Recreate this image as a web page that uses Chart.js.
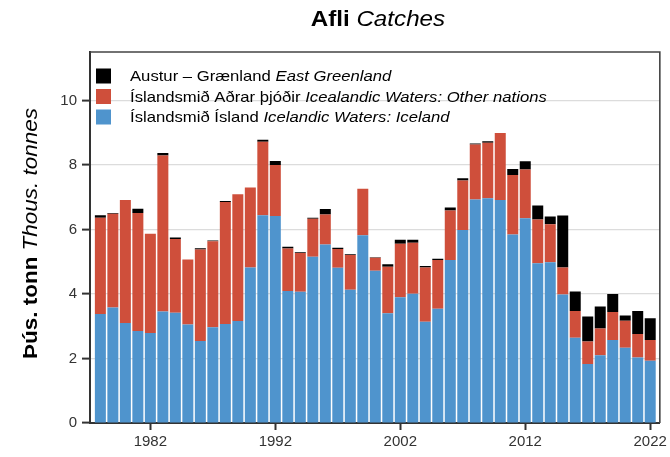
<!DOCTYPE html>
<html><head><meta charset="utf-8">
<script src="https://cdn.jsdelivr.net/npm/chart.js@4"></script>
<style>html,body{margin:0;padding:0;background:#fff}#wrap{width:670px;height:457px}</style>
</head><body><div id="wrap"><canvas id="c" width="670" height="457"></canvas></div>
<script>
const years = [1978,1979,1980,1981,1982,1983,1984,1985,1986,1987,1988,1989,1990,1991,1992,
  1993,1994,1995,1996,1997,1998,1999,2000,2001,2002,2003,2004,2005,2006,2007,
  2008,2009,2010,2011,2012,2013,2014,2015,2016,2017,2018,2019,2020,2021,2022];
const iceland = [3.38,3.58,3.10,2.85,2.79,3.46,3.42,3.05,2.54,2.97,3.07,3.16,4.82,6.44,6.42,
  4.09,4.07,5.15,5.53,4.81,4.13,5.82,4.72,3.40,3.90,4.01,3.14,3.54,5.05,5.98,
  6.93,6.97,6.91,5.84,6.35,4.95,4.98,3.98,2.64,1.83,2.10,2.57,2.33,2.03,1.93];
const otherNations = [2.98,2.91,3.81,3.66,3.08,4.83,2.28,2.02,2.84,2.66,3.78,3.93,2.48,2.28,1.58,
  1.32,1.20,1.18,0.93,0.58,1.08,1.44,0.40,1.44,1.66,1.58,1.68,1.51,1.54,1.54,
  1.70,1.72,2.08,1.85,1.51,1.36,1.18,0.84,0.83,0.70,0.83,0.87,0.84,0.73,0.64];
const eastGreenland = [0.08,0.02,0,0.13,0,0.08,0.05,0,0.04,0.03,0.03,0,0,0.06,0.12,
  0.05,0.02,0.03,0.17,0.04,0.02,0,0.02,0.08,0.12,0.09,0.05,0.04,0.09,0.07,
  0.03,0.04,0,0.18,0.25,0.43,0.24,1.61,0.61,0.77,0.68,0.56,0.16,0.71,0.68];
const xTickYears = [1982,1992,2002,2012,2022];
const yTickValues = [0,2,4,6,8,10];

const FONT = '"Liberation Sans", Arial, Helvetica, sans-serif';
const COL_BLUE = '#4f94cd';
const COL_RED = '#cf4f3b';
const COL_BLACK = '#000000';

const legendItems = [
  {color: COL_BLACK, normal: 'Austur – Grænland ', italic: 'East Greenland'},
  {color: COL_RED, normal: 'Íslandsmið Aðrar þjóðir ', italic: 'Icealandic Waters: Other nations'},
  {color: COL_BLUE, normal: 'Íslandsmið Ísland ', italic: 'Icelandic Waters: Iceland'}
];

function toPoints(arr){ return years.map((y,i)=>({x:y, y:arr[i]})); }

function measureParts(ctx, parts){
  let w = 0;
  for (const p of parts){ ctx.font = p.font; w += ctx.measureText(p.text).width; }
  return w;
}
// draws text parts starting at (x,y), stretched horizontally by sx
function drawParts(ctx, parts, x, y, sx){
  ctx.save();
  ctx.translate(x, y);
  ctx.scale(sx, 1);
  let cx = 0;
  for (const p of parts){
    ctx.font = p.font;
    ctx.fillText(p.text, cx, 0);
    cx += ctx.measureText(p.text).width;
  }
  ctx.restore();
}

const deco = {
  id: 'deco',
  afterDraw(chart){
    const ctx = chart.ctx, a = chart.chartArea;
    ctx.save();
    // frame
    ctx.strokeStyle = '#444';
    ctx.lineWidth = 1.6;
    ctx.beginPath();
    ctx.moveTo(a.left, a.top); ctx.lineTo(a.right, a.top); ctx.lineTo(a.right, a.bottom);
    ctx.stroke();
    ctx.fillStyle = '#000';
    ctx.textBaseline = 'alphabetic';
    // title
    const tParts = [{text:'Afli ', font:'bold 22px '+FONT},{text:'Catches', font:'italic 22px '+FONT}];
    const tS = 1.1;
    const tw = measureParts(ctx, tParts) * tS;
    drawParts(ctx, tParts, (a.left+a.right)/2 - tw/2 + 3, 26, tS);
    // y title
    const yParts = [{text:'Þús. tonn ', font:'bold 21px '+FONT},{text:'Thous. tonnes', font:'italic 21px '+FONT}];
    const yS = 1.07;
    const yw = measureParts(ctx, yParts) * yS;
    ctx.save();
    ctx.translate(37, (a.top+a.bottom)/2 - 4);
    ctx.rotate(-Math.PI/2);
    drawParts(ctx, yParts, -yw/2, 0, yS);
    ctx.restore();
    // legend
    legendItems.forEach((it, i) => {
      const cy = 76 + i*20.5;
      ctx.fillStyle = it.color;
      ctx.fillRect(96, cy-7.5, 15, 15);
      ctx.fillStyle = '#000';
      drawParts(ctx, [{text:it.normal, font:'14.5px '+FONT},{text:it.italic, font:'italic 14.5px '+FONT}], 130, cy+5, 1.15);
    });
    ctx.restore();
  }
};

const common = {categoryPercentage: 1, barPercentage: 0.88, borderWidth: 0};
new Chart(document.getElementById('c'), {
  type: 'bar',
  data: {
    datasets: [
      Object.assign({label:'Íslandsmið Ísland', data: toPoints(iceland), backgroundColor: COL_BLUE}, common),
      Object.assign({label:'Íslandsmið Aðrar þjóðir', data: toPoints(otherNations), backgroundColor: COL_RED}, common),
      Object.assign({label:'Austur – Grænland', data: toPoints(eastGreenland), backgroundColor: COL_BLACK}, common)
    ]
  },
  options: {
    responsive: false,
    animation: false,
    layout: {padding: {left: 0, right: 6, top: 52, bottom: 0}},
    plugins: {legend: {display: false}, tooltip: {enabled: false}, title: {display: false}},
    scales: {
      x: {
        type: 'linear', stacked: true, min: 1977.17, max: 2022.77, offset: false,
        afterBuildTicks(s){ s.ticks = xTickYears.map(v => ({value: v})); },
        ticks: {callback: v => String(v), font: {size: 15, family: FONT}, color: '#333', padding: 3, maxRotation: 0, autoSkip: false},
        grid: {offset: false, drawOnChartArea: false, drawTicks: true, tickLength: 7, tickColor: '#333', tickWidth: 2},
        border: {display: true, color: '#333', width: 2},
        afterFit(s){ s.height = 34; }
      },
      y: {
        stacked: true, min: 0, max: 11.5,
        afterBuildTicks(s){ s.ticks = yTickValues.map(v => ({value: v})); },
        ticks: {font: {size: 15, family: FONT}, color: '#333', padding: 5},
        grid: {color: '#dcdcdc', lineWidth: 1.2, drawTicks: true, tickLength: 8, tickColor: '#333', tickWidth: 2},
        border: {display: true, color: '#333', width: 2},
        afterFit(s){ s.width = 90; }
      }
    }
  },
  plugins: [deco]
});
</script>
</body></html>
